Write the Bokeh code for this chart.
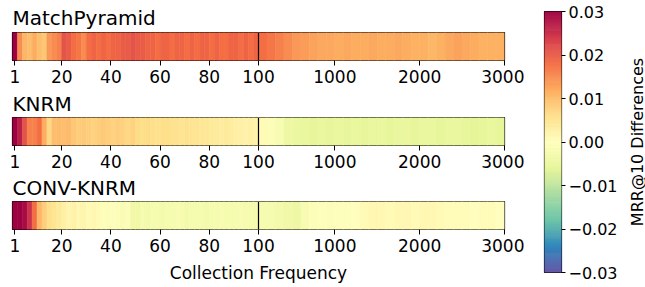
import numpy as np
from bokeh.plotting import figure
from bokeh.models import Range1d, FixedTicker, Span, LinearColorMapper, ColumnDataSource
from bokeh.transform import transform
from bokeh.layouts import row, column
from bokeh.embed import file_html
from bokeh.resources import INLINE

# ---------------- data ----------------
MODELS = ["MatchPyramid", "KNRM", "CONV-KNRM"]
LEFT_BIN_STARTS = list(range(1, 101, 2))        # bins of 2 frequencies: 1-2, 3-4, ..., 99-100
RIGHT_BIN_STARTS = list(range(100, 3000, 100))  # bins of 100: 100-200, ..., 2900-3000
TICK_FREQS = [1, 20, 40, 60, 80, 100, 1000, 2000, 3000]
TICK_LABELS = ["1", "20", "40", "60", "80", "100", "1000", "2000", "3000"]
CB_TICKS = [-0.03, -0.02, -0.01, 0.0, 0.01, 0.02, 0.03]
CB_LABELS = ["\u22120.03", "\u22120.02", "\u22120.01", "0.00", "0.01", "0.02", "0.03"]
CB_TITLE = "MRR@10 Differences"
X_TITLE = "Collection Frequency"

matchpyramid_left = [
    0.030, 0.015, 0.011, 0.010, 0.012, 0.010, 0.009, 0.014, 0.015, 0.016,
    0.021, 0.020, 0.018, 0.017, 0.015, 0.018, 0.019, 0.018, 0.019, 0.018,
    0.019, 0.019, 0.020, 0.020, 0.021, 0.020, 0.020, 0.019, 0.019, 0.018,
    0.019, 0.019, 0.018, 0.019, 0.019, 0.018, 0.019, 0.018, 0.019, 0.019,
    0.018, 0.019, 0.018, 0.018, 0.019, 0.019, 0.018, 0.019, 0.018, 0.019]
matchpyramid_right = [
    0.018, 0.017, 0.016, 0.015, 0.014, 0.0135, 0.013, 0.0125, 0.0125, 0.012,
    0.0125, 0.012, 0.012, 0.0125, 0.012, 0.012, 0.0125, 0.012, 0.0115, 0.0115,
    0.011, 0.0115, 0.0125, 0.013, 0.0125, 0.012, 0.0115, 0.0115, 0.0115]

knrm_left = [
    0.030, 0.027, 0.021, 0.016, 0.016, 0.018, 0.012, 0.007, 0.010, 0.0105,
    0.010, 0.0105, 0.009, 0.008, 0.0085, 0.008, 0.0075, 0.008, 0.0085, 0.008,
    0.0075, 0.008, 0.0075, 0.0070, 0.0075, 0.0065, 0.006, 0.0065, 0.006, 0.0055,
    0.006, 0.006, 0.0055, 0.0055, 0.005, 0.0055, 0.005, 0.005, 0.0045, 0.0045,
    0.004, 0.004, 0.0035, 0.004, 0.0035, 0.003, 0.003, 0.0025, 0.003, 0.0025]
knrm_right = [
    0.001, -0.001, -0.002, -0.004, -0.0045, -0.005, -0.0055, -0.005, -0.0055, -0.005,
    -0.0055, -0.005, -0.0055, -0.005, -0.005, -0.0055, -0.005, -0.005, -0.0055, -0.005,
    -0.005, -0.0055, -0.005, -0.005, -0.0055, -0.006, -0.0055, -0.005, -0.0055]

conv_knrm_left = [
    0.030, 0.030, 0.029, 0.025, 0.018, 0.011, 0.008, 0.006, 0.005, 0.004,
    0.003, 0.002, 0.0025, 0.0015, 0.002, 0.001, 0.0015, 0.001, -0.0005, -0.001,
    -0.0005, -0.001, -0.0015, -0.001, -0.0035, -0.0035, -0.0025, -0.003, -0.0025, -0.0025,
    -0.003, -0.0025, -0.0025, -0.002, -0.0025, -0.003, -0.0025, -0.0025, -0.0025, -0.003,
    -0.0025, -0.0025, -0.002, -0.0025, -0.0025, -0.0025, -0.002, -0.0025, -0.0025, -0.0025]
conv_knrm_right = [
    -0.0025, -0.0025, -0.003, -0.0035, -0.004, -0.002, -0.001, -0.0005, -0.001, -0.0005,
    -0.0005, 0.0, 0.001, 0.0015, 0.0015, 0.001, 0.0015, 0.0015, 0.001, 0.0015,
    0.0015, 0.001, 0.0005, 0.0005, 0.0005, 0.0, 0.0005, 0.0005, 0.0]

SERIES = [
    (matchpyramid_left, matchpyramid_right),
    (knrm_left, knrm_right),
    (conv_knrm_left, conv_knrm_right),
]

# ---------------- colour map (Spectral, reversed: low = purple, high = red) ----------------
SPECTRAL_LOW_TO_HIGH = ["#5e4fa2", "#3288bd", "#66c2a5", "#abdda4", "#e6f598", "#ffffbf",
                        "#fee08b", "#fdae61", "#f46d43", "#d53e4f", "#9e0142"]


def interp_pal(hexes, n):
    rgb = np.array([[int(h[i:i + 2], 16) for i in (1, 3, 5)] for h in hexes], dtype=float)
    xs = np.linspace(0, 1, len(hexes))
    t = np.linspace(0, 1, n)
    out = []
    for tt in t:
        c = [int(round(np.interp(tt, xs, rgb[:, k]))) for k in range(3)]
        out.append("#%02x%02x%02x" % tuple(c))
    return out


PALETTE = interp_pal(SPECTRAL_LOW_TO_HIGH, 256)
mapper = LinearColorMapper(palette=PALETTE, low=-0.03, high=0.03)


# piecewise-linear frequency axis: 1..100 on the left half, 100..3000 on the right half
def pos(f):
    return 29 * f if f <= 100 else 2900 + (f - 100)


FONT = "DejaVu Sans"
tick_pos = [pos(f) for f in TICK_FREQS]
overrides = {p_: lab for p_, lab in zip(tick_pos, TICK_LABELS)}

title_standoffs = [6, 4, 3]
bottom_borders = [27, 27, 0]

figs = []
for i, name in enumerate(MODELS):
    left_vals, right_vals = SERIES[i]
    lefts = [pos(s - 1) for s in LEFT_BIN_STARTS] + [pos(s) for s in RIGHT_BIN_STARTS]
    rights = [pos(s + 1) for s in LEFT_BIN_STARTS] + [pos(s + 100) for s in RIGHT_BIN_STARTS]
    vals = list(left_vals) + list(right_vals)
    src = ColumnDataSource(dict(l=lefts, r=rights, v=vals))

    p = figure(frame_width=492, frame_height=28, x_range=Range1d(0, pos(3000)), y_range=Range1d(0, 1),
               toolbar_location=None, output_backend="svg", y_axis_location=None,
               min_border_left=12, min_border_right=20, min_border_top=0,
               min_border_bottom=bottom_borders[i], title=name)
    p.quad(left="l", right="r", bottom=0, top=1, source=src,
           fill_color=transform("v", mapper), line_color=transform("v", mapper), line_width=0.6)
    p.add_layout(Span(location=pos(100), dimension="height", line_color="black", line_width=1.2))

    p.title.text_font = FONT
    p.title.text_font_size = "20px"
    p.title.text_font_style = "normal"
    p.title.text_color = "black"
    p.title.align = "left"
    p.title.offset = 0
    p.title.standoff = title_standoffs[i]

    p.xgrid.grid_line_color = None
    p.ygrid.grid_line_color = None
    p.outline_line_color = "black"
    p.outline_line_width = 1.2
    p.outline_line_alpha = 1

    ax = p.xaxis[0]
    ax.ticker = FixedTicker(ticks=tick_pos, minor_ticks=[])
    ax.major_label_overrides = overrides
    ax.axis_line_color = None
    ax.major_tick_in = 0
    ax.major_tick_out = 5
    ax.major_tick_line_color = "black"
    ax.major_tick_line_width = 1
    ax.minor_tick_line_color = None
    ax.major_label_standoff = 4
    ax.major_label_text_font = FONT
    ax.major_label_text_font_size = "17px"
    ax.major_label_text_color = "black"
    if i == 2:
        ax.axis_label = X_TITLE
        ax.axis_label_text_font = FONT
        ax.axis_label_text_font_size = "17px"
        ax.axis_label_text_font_style = "normal"
        ax.axis_label_text_color = "black"
        ax.axis_label_standoff = 8
    figs.append(p)

# ---------------- colour bar ----------------
levels = np.linspace(-0.03, 0.03, 257)
cb_src = ColumnDataSource(dict(b=levels[:-1], t=levels[1:], v=(levels[:-1] + levels[1:]) / 2))
cb = figure(frame_width=17, frame_height=261, x_range=Range1d(0, 1), y_range=Range1d(-0.03, 0.03),
            toolbar_location=None, output_backend="svg", x_axis_location=None,
            y_axis_location="right", min_border_left=20, min_border_right=0,
            min_border_top=11, min_border_bottom=14)
cb.quad(left=0, right=1, bottom="b", top="t", source=cb_src,
        fill_color=transform("v", mapper), line_color=transform("v", mapper), line_width=0.6)
cb.xgrid.grid_line_color = None
cb.ygrid.grid_line_color = None
cb.outline_line_color = "black"
cb.outline_line_width = 1.2
cb.outline_line_alpha = 1
yax = cb.yaxis[0]
yax.ticker = FixedTicker(ticks=CB_TICKS, minor_ticks=[])
yax.major_label_overrides = {t: lab for t, lab in zip(CB_TICKS, CB_LABELS)}
yax.axis_line_color = None
yax.major_tick_in = 0
yax.major_tick_out = 4
yax.major_tick_line_color = "black"
yax.minor_tick_line_color = None
yax.major_label_standoff = 3
yax.major_label_text_font = FONT
yax.major_label_text_font_size = "16px"
yax.major_label_text_color = "black"

# colour-bar title: a left axis (reads bottom-to-top) on a 1px-wide companion figure
lab = figure(frame_width=1, frame_height=261, x_range=Range1d(0, 1), y_range=Range1d(-0.03, 0.03),
             toolbar_location=None, output_backend="svg", x_axis_location=None,
             y_axis_location="left", min_border_left=26, min_border_right=0,
             min_border_top=11, min_border_bottom=14)
lab.xgrid.grid_line_color = None
lab.ygrid.grid_line_color = None
lab.outline_line_color = None
lax = lab.yaxis[0]
lax.ticker = FixedTicker(ticks=[], minor_ticks=[])
lax.axis_line_color = None
lax.major_tick_out = 0
lax.major_tick_in = 0
lax.major_label_standoff = 0
lax.axis_label = CB_TITLE
lax.axis_label_standoff = 0
lax.axis_label_text_font = FONT
lax.axis_label_text_font_size = "16px"
lax.axis_label_text_font_style = "normal"
lax.axis_label_text_color = "black"

layout = row(column(*figs), cb, lab)
open("out.html", "w").write(file_html(layout, INLINE))
